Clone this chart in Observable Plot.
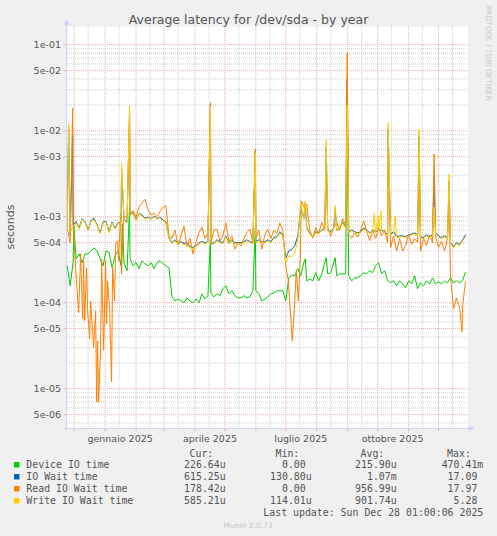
<!DOCTYPE html>
<html><head><meta charset="utf-8">
<script src="https://cdn.jsdelivr.net/npm/d3@7"></script>
<script src="https://cdn.jsdelivr.net/npm/@observablehq/plot@0.6"></script>
<style>
html,body{margin:0;padding:0;background:#f0f0f0;}
#chart{position:relative;width:497px;height:536px;overflow:hidden;}
</style></head><body><div id="chart"></div>
<script>
// ---- data (values in microseconds), one sample every 3 days from 2024-11-24 ----
const sampleStart = "2024-11-24";
const sampleStepDays = 3;

const deviceIO = [
269,158,300,325,371,292,371,371,402,436,
402,325,269,402,383,255,352,402,269,292,
236,325,269,292,250,308,284,269,292,250,
292,308,284,269,255,117,105,111,105,100,
114,105,100,111,100,127,111,121,130,117,
127,121,146,158,127,138,121,114,114,121,
114,117,138,138,127,105,111,117,127,130,
138,138,138,105,195,211,206,250,206,292,
180,189,180,224,180,217,292,217,224,292,
206,217,217,217,206,180,195,195,206,224,
217,236,224,269,292,217,236,180,171,180,
158,180,166,149,180,166,206,146,171,158,
180,166,195,166,175,166,180,171,195,171,
180,171,180,227];

const ioWait = [
700,620,800,880,740,950,870,700,920,960,
800,650,870,890,670,870,740,850,870,920,
870,1050,1130,920,1100,1050,960,990,950,1020,
950,990,920,870,570,500,540,500,515,490,
500,450,440,460,500,515,500,515,490,500,
540,515,500,600,500,540,500,500,500,515,
540,515,500,515,540,515,515,540,515,570,
585,670,620,330,400,420,460,600,1300,960,
740,650,585,670,650,700,740,700,670,740,
700,740,870,760,670,700,670,650,670,740,
700,650,700,670,700,700,670,620,630,670,
585,600,600,585,620,630,650,620,585,570,
620,585,620,650,600,570,600,570,500,450,
500,475,540,615];

const readWait = [
750,500,800,null,null,null,null,null,null,null,
null,null,null,null,null,null,null,null,null,null,
1000,1100,1175,1000,1300,1450,1600,1200,1050,1100,
1000,1150,1300,1340,600,560,700,470,600,780,
450,560,370,500,650,760,560,650,500,700,
720,520,600,850,520,600,420,500,460,560,
650,720,500,560,700,420,620,720,560,700,
640,850,700,270,null,null,null,null,null,1300,
1400,700,560,750,640,860,700,760,600,740,
860,700,950,800,620,560,650,580,700,900,
680,530,700,560,760,600,700,500,440,600,
400,560,400,460,620,480,560,500,400,560,
460,620,500,600,440,520,400,560,200,85,
114,90,90,178];

const writeWait = [
688,650,786,851,720,935,851,688,898,935,
786,634,851,875,652,851,720,830,851,898,
851,1027,1110,898,1084,1027,935,973,935,1000,
935,973,898,851,555,485,526,485,500,472,
485,436,425,448,485,500,485,500,472,485,
526,500,485,585,485,526,485,485,485,500,
526,500,485,500,526,500,500,526,500,555,
570,652,601,292,352,343,383,526,1416,935,
720,634,570,652,634,688,720,688,652,720,
688,720,851,720,652,688,652,634,652,720,
688,634,688,652,688,688,652,601,617,652,
570,585,585,570,601,617,634,601,570,555,
601,570,601,634,585,555,585,555,485,436,
485,460,526,585];

// extra readings (spikes and dips between samples), taken at midday
const deviceExtra = [["2024-11-30",850],["2025-01-18",830],["2025-01-25",1343],["2025-04-16",555],
  ["2025-05-31",745],["2025-07-20",325],["2025-08-10",334],["2025-08-19",334],["2025-08-31",25000]];
const ioWaitExtra = [["2024-11-25",11000],["2024-11-29",9000],["2025-01-17",3500],["2025-01-25",17000],
  ["2025-04-16",20000],["2025-05-31",5800],["2025-07-20",1450],["2025-08-10",6500],["2025-08-19",1250],
  ["2025-08-31",40000],["2025-10-11",10500],["2025-11-11",8500],["2025-11-26",3000],["2025-12-11",2600]];
const readExtra = [["2024-11-29",18500],["2024-12-03",166],["2024-12-05",77],["2024-12-07",371],["2024-12-09",65],
  ["2024-12-10",308],["2024-12-11",62],["2024-12-13",255],["2024-12-14",81],["2024-12-16",38],
  ["2024-12-17",105],["2024-12-20",30],["2024-12-22",81],["2024-12-23",7],["2024-12-24",36],
  ["2024-12-25",7],["2024-12-27",30],["2024-12-28",320],["2024-12-30",28],["2025-01-01",308],
  ["2025-01-02",57],["2025-01-03",180],["2025-01-05",85],["2025-01-07",12],["2025-01-08",255],
  ["2025-01-10",105],["2025-01-11",485],["2025-01-13",526],["2025-01-14",308],["2025-01-16",1084],
  ["2025-01-17",217],["2025-01-19",1000],["2025-01-25",15000],["2025-04-16",21200],["2025-05-31",6170],
  ["2025-07-03",180],["2025-07-05",81],["2025-07-07",36],["2025-07-09",81],["2025-07-11",236],
  ["2025-07-13",105],["2025-07-15",308],["2025-07-16",1535],["2025-07-20",1300],["2025-08-10",3000],
  ["2025-08-31",80700],["2025-10-11",6000],["2025-11-11",3000],["2025-11-26",5400],["2025-12-11",1500],
  ["2025-12-24",46]];
const writeExtra = [["2024-11-25",12000],["2025-01-17",4250],["2025-01-25",19500],["2025-04-16",19000],
  ["2025-05-31",5500],["2025-07-20",1535],["2025-08-10",7860],["2025-08-19",1343],["2025-08-31",20000],
  ["2025-09-27",1084],["2025-10-01",1030],["2025-10-04",1175],["2025-10-11",12400],["2025-10-18",1027],
  ["2025-11-11",10500],["2025-11-26",1300],["2025-12-11",3160]];

const seriesNames = ["Device IO time","IO Wait time","Read IO Wait time","Write IO Wait time"];
const seriesColors = ["#00cc00","#0066b3","#ff8000","#ffcc00"];
const curText = ["226.64u","615.25u","178.42u","585.21u"];
const minText = ["  0.00 ","130.80u","  0.00 ","114.01u"];
const avgText = ["215.90u","  1.07m","956.99u","901.74u"];
const maxText = ["470.41m"," 17.09 "," 17.97 ","  5.28 "];

const monthStarts = ["2024-12-01","2025-01-01","2025-02-01","2025-03-01","2025-04-01","2025-05-01","2025-06-01",
  "2025-07-01","2025-08-01","2025-09-01","2025-10-01","2025-11-01","2025-12-01"];
const midMonths = ["2024-12-15","2025-01-15","2025-02-15","2025-03-15","2025-04-15","2025-05-15","2025-06-15",
  "2025-07-15","2025-08-15","2025-09-15","2025-10-15","2025-11-15","2025-12-15"];
const xTickDates = ["2025-01-16","2025-04-16","2025-07-16","2025-10-16"];
const xTickLabels = ["gennaio 2025","aprile 2025","luglio 2025","ottobre 2025"];
const yMajor = [1e-1,5e-2,1e-2,5e-3,1e-3,5e-4,1e-4,5e-5,1e-5,5e-6];
const yTickLabels = ["1e-01","5e-02","1e-02","5e-03","1e-03","5e-04","1e-04","5e-05","1e-05","5e-06"];
const yMinor = [9e-2,8e-2,7e-2,6e-2,4e-2,3e-2,2e-2,9e-3,8e-3,7e-3,6e-3,4e-3,3e-3,2e-3,
  9e-4,8e-4,7e-4,6e-4,4e-4,3e-4,2e-4,9e-5,8e-5,7e-5,6e-5,4e-5,3e-5,2e-5,9e-6,8e-6,7e-6,6e-6,4e-6];

// ---- build ----
const t0 = new Date(sampleStart + "T00:00Z");
function build(base, extra) {
  const pts = [];
  base.forEach((v, i) => { if (v != null) pts.push({date: d3.utcDay.offset(t0, i * sampleStepDays), value: v * 1e-6}); });
  extra.forEach(([d, v]) => pts.push({date: new Date(d + "T12:00Z"), value: v * 1e-6}));
  return pts.sort((a, b) => a.date - b.date);
}
const series = [build(deviceIO, deviceExtra), build(ioWait, ioWaitExtra), build(readWait, readExtra), build(writeWait, writeExtra)];
const utc = s => new Date(s + "T00:00Z");
const yTicks = yMajor.map((v, i) => ({v, label: yTickLabels[i]}));

const RED = "#f2a6a6", GRAY = "#cdcdcd";
const plot = Plot.plot({
  width: 497, height: 536,
  marginTop: 26, marginBottom: 108, marginLeft: 67, marginRight: 29.5,
  style: {background: "transparent", fontFamily: "'DejaVu Sans'", fontSize: "9.5px", color: "#555", overflow: "visible"},
  x: {type: "utc", domain: [new Date("2024-11-24T08:00Z"), new Date("2025-12-30T12:00Z")]},
  y: {type: "log", domain: [3.454e-6, 0.1632]},
  marks: [
    Plot.frame({fill: "white", stroke: null}),
    Plot.ruleY(yMinor, {stroke: GRAY, strokeDasharray: "1,1"}),
    Plot.ruleX(midMonths.map(utc), {stroke: GRAY, strokeDasharray: "1,1"}),
    Plot.ruleY(yMajor, {stroke: RED, strokeDasharray: "1,1"}),
    Plot.ruleX(monthStarts.map(utc), {stroke: RED, strokeDasharray: "1,1"}),
    Plot.text(yTicks, {y: "v", text: "label", frameAnchor: "left", textAnchor: "end", dx: -6.5, fill: "#555", fontSize: 9.5}),
    Plot.axisY({ticks: yMajor, tickFormat: () => "", tickSize: 3.5, stroke: RED, label: null}),
    Plot.axisX({ticks: xTickDates.map(utc), tickFormat: (d, i) => xTickLabels[i], tickSize: 0, tickPadding: 7, label: null}),
    Plot.axisX({ticks: monthStarts.map(utc), tickFormat: () => "", tickSize: 3, stroke: RED, label: null}),
    ...series.map((s, i) => Plot.line(s, {x: "date", y: "value", stroke: seriesColors[i], strokeWidth: 1}))
  ]
});
document.getElementById("chart").appendChild(plot);

// ---- decorations: axes arrows, title, labels, legend ----
const svg = d3.select(plot);
const [xa, xb] = plot.scale("x").range;
const [yb, ya] = plot.scale("y").range;
const AX = "#cfd6f8";
const g = svg.append("g");
g.append("line").attr("x1", xa - 0.5).attr("x2", xa - 0.5).attr("y1", yb + 3).attr("y2", ya - 2).attr("stroke", AX);
g.append("path").attr("d", `M${xa - 3.5},${ya - 1}L${xa + 2.5},${ya - 1}L${xa - 0.5},${ya - 7}Z`).attr("fill", AX);
g.append("line").attr("x1", xa - 4).attr("x2", xb + 2).attr("y1", yb + 0.5).attr("y2", yb + 0.5).attr("stroke", AX);
g.append("path").attr("d", `M${xb + 1},${yb - 2.5}L${xb + 1},${yb + 3.5}L${xb + 7},${yb + 0.5}Z`).attr("fill", AX);

const txt = (x, y, s, o = {}) => g.append("text").attr("x", x).attr("y", y).text(s)
  .attr("font-family", o.ff || "DejaVu Sans").attr("font-size", o.fs || 9.5)
  .attr("fill", o.fill || "#555").attr("text-anchor", o.anchor || "start")
  .style("white-space", "pre").attr("transform", o.rot ? `rotate(${o.rot},${x},${y})` : null);

txt(248.5, 24, "Average latency for /dev/sda - by year", {fs: 12.5, anchor: "middle"});
txt(14, 227, "seconds", {fs: 11, anchor: "middle", rot: -90});
txt(486, 53, "RRDTOOL / TOBI OETIKER", {fs: 7.4, anchor: "middle", rot: 90, fill: "#c8c8c8"});

const MONO = {ff: "DejaVu Sans Mono", fs: 9.9};
const colRight = [225.7, 311.7, 396.7, 483.3];
const headers = ["Cur:", "Min:", "Avg:", "Max:"];
headers.forEach((h, j) => txt(colRight[j] - 12.4, 457, h, {...MONO, anchor: "end"}));
seriesNames.forEach((n, i) => {
  const y = 468 + i * 12;
  g.append("rect").attr("x", 14).attr("y", y - 6).attr("width", 5.5).attr("height", 5.5).attr("fill", seriesColors[i]);
  txt(26.3, y, n, MONO);
  [curText, minText, avgText, maxText].forEach((col, j) => txt(colRight[j], y, col[i], {...MONO, anchor: "end"}));
});
txt(483.3, 516, "Last update: Sun Dec 28 01:00:06 2025", {...MONO, anchor: "end"});
txt(248, 528, "Munin 2.0.73", {fs: 7.5, anchor: "middle", fill: "#c8c8c8"});
</script></body></html>
